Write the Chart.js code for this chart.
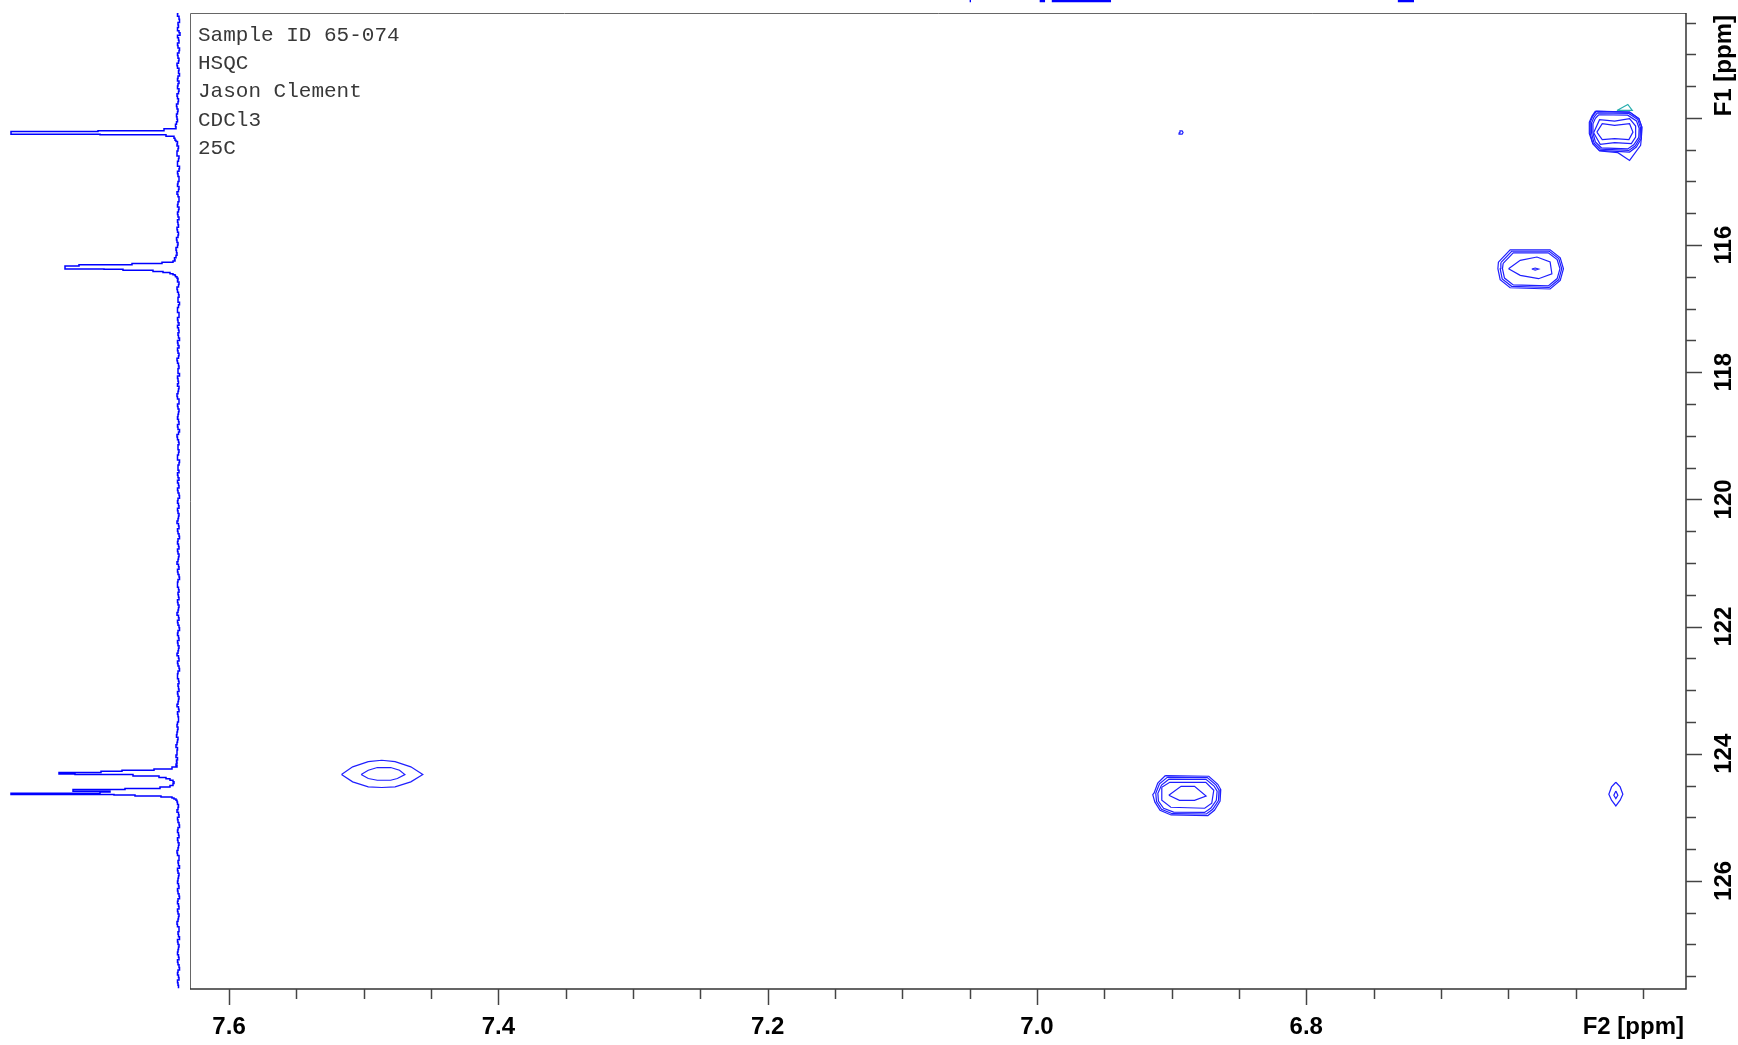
<!DOCTYPE html>
<html>
<head>
<meta charset="utf-8">
<script src="https://cdn.jsdelivr.net/npm/chart.js@4.4.1/dist/chart.umd.min.js"></script>
<style>
  html, body { margin: 0; padding: 0; background: #fff; }
  #wrap { position: relative; width: 1738px; height: 1045px; }
  #main_canvas { position: absolute; left: 0; top: 0; }
  #proj_canvas { position: absolute; left: 0; top: 0; }
</style>
</head>
<body>
<div id="wrap">
  <canvas id="main_canvas" width="1738" height="1045"></canvas>
  <canvas id="proj_canvas" width="190" height="1045"></canvas>
</div>
<script>
// axis ranges (ppm)
const f2Range = [6.518, 7.629];
const f1Range = [112.35, 127.70];

const f2Ticks = [7.6, 7.55, 7.5, 7.45, 7.4, 7.35, 7.3, 7.25, 7.2, 7.15, 7.1, 7.05, 7.0, 6.95, 6.9, 6.85, 6.8, 6.75, 6.7, 6.65, 6.6, 6.55];
const f2Labels = [7.6, 7.4, 7.2, 7.0, 6.8];
const f1Ticks = [112.5, 113, 113.5, 114, 114.5, 115, 115.5, 116, 116.5, 117, 117.5, 118, 118.5, 119, 119.5, 120, 120.5, 121, 121.5, 122, 122.5, 123, 123.5, 124, 124.5, 125, 125.5, 126, 126.5, 127, 127.5];
const f1Major = [114, 116, 118, 120, 122, 124, 126];
const f1Labels = [116, 118, 120, 122, 124, 126];

const infoLines = ['Sample ID 65-074', 'HSQC', 'Jason Clement', 'CDCl3', '25C'];

// cross peaks: centre [F2, F1] and contour rings as [dF2, dF1] offsets (ppm)
const peakA = [6.5703, 114.212];
const peakARings = [
  [[0.0143,-0.314],[-0.0104,-0.303],[-0.0173,-0.200],[-0.0195,-0.068],[-0.0191,0.115],[-0.0186,0.220],[-0.0104,0.456],[-0.0017,0.335],[0.0119,0.309],[0.0169,0.193],[0.0188,0.036],[0.0188,-0.146],[0.0169,-0.241]],
  [[0.0150,-0.318],[-0.0104,-0.303],[-0.0173,-0.200],[-0.0195,-0.068],[-0.0191,0.115],[-0.0154,0.247],[-0.0104,0.325],[0.0119,0.299],[0.0169,0.193],[0.0195,0.036],[0.0195,-0.146],[0.0175,-0.241]],
  [[0.0135,-0.290],[-0.0098,-0.282],[-0.0165,-0.185],[-0.0185,-0.060],[-0.0182,0.105],[-0.0145,0.230],[-0.0098,0.300],[0.0112,0.280],[0.0160,0.180],[0.0178,0.030],[0.0178,-0.135],[0.0160,-0.225]],
  [[0.0125,-0.262],[-0.0090,-0.255],[-0.0155,-0.165],[-0.0175,-0.050],[-0.0172,0.095],[-0.0135,0.210],[-0.0090,0.275],[0.0105,0.258],[0.0150,0.165],[0.0168,0.025],[0.0168,-0.120],[0.0150,-0.205]],
  [[0.0163,0.021],[0.0119,-0.184],[0.0007,-0.162],[-0.0104,-0.200],[-0.0149,-0.084],[-0.0149,0.090],[-0.0117,0.193],[0.0007,0.178],[0.0114,0.204]],
  [[0.0139,0.011],[0.0099,-0.121],[0.0007,-0.094],[-0.0104,-0.121],[-0.0129,0.011],[-0.0099,0.130],[0.0007,0.115],[0.0099,0.130]]
];
const peakB = [6.630, 116.377];
const peakBRings = [
  [[0.0273,-0.110],[0.0186,-0.303],[-0.0111,-0.303],[-0.0186,-0.178],[-0.0210,-0.005],[-0.0186,0.178],[-0.0111,0.314],[0.0186,0.294],[0.0260,0.168],[0.0277,-0.005]],
  [[0.0255,-0.100],[0.0175,-0.280],[-0.0104,-0.280],[-0.0175,-0.165],[-0.0197,-0.005],[-0.0175,0.165],[-0.0104,0.290],[0.0175,0.272],[0.0245,0.155],[0.0260,-0.005]],
  [[0.0238,-0.090],[0.0163,-0.255],[-0.0097,-0.255],[-0.0163,-0.150],[-0.0184,-0.005],[-0.0163,0.150],[-0.0097,0.265],[0.0163,0.250],[0.0228,0.142],[0.0243,-0.005]],
  [[0.0198,-0.005],[0.0111,-0.137],[-0.0013,-0.189],[-0.0111,-0.110],[-0.0124,0.074],[-0.0025,0.152],[0.0111,0.099]],
  [[0.0025,0],[0,-0.016],[-0.0025,0],[0,0.016]]
];
const peakC = [7.4863, 124.327];
const peakCRings = [
  [[0.0302,0],[0.0219,-0.121],[0.0103,-0.204],[0.0003,-0.225],[-0.0096,-0.204],[-0.0213,-0.121],[-0.0302,0],[-0.0213,0.115],[-0.0096,0.193],[0.0003,0.204],[0.0103,0.193],[0.0219,0.115]],
  [[0.0156,0],[0.0103,-0.068],[0.0036,-0.110],[-0.0063,-0.110],[-0.0129,-0.068],[-0.0169,0],[-0.0113,0.063],[-0.0063,0.090],[0.0036,0.090],[0.0103,0.063]]
];
const peakD = [6.888, 124.653];
const peakDRings = [
  [[0.0166,-0.310],[-0.0156,-0.299],[-0.0223,-0.173],[-0.0245,-0.090],[-0.0240,0.090],[-0.0198,0.236],[-0.0149,0.319],[0.0124,0.310],[0.0206,0.236],[0.0245,0.105],[0.0260,-0.011],[0.0250,-0.036],[0.0223,-0.193]],
  [[0.0150,-0.285],[-0.0145,-0.278],[-0.0210,-0.160],[-0.0232,-0.080],[-0.0228,0.085],[-0.0185,0.220],[-0.0138,0.295],[0.0115,0.290],[0.0195,0.222],[0.0232,0.100],[0.0238,-0.030],[0.0210,-0.180]],
  [[0.0138,-0.255],[-0.0135,-0.250],[-0.0195,-0.145],[-0.0218,-0.065],[-0.0212,0.080],[-0.0172,0.200],[-0.0125,0.270],[0.0105,0.265],[0.0180,0.205],[0.0218,0.090],[0.0222,-0.030],[0.0195,-0.160]],
  [[0.0193,-0.126],[0.0134,-0.204],[-0.0134,-0.204],[-0.0193,-0.079],[-0.0178,0.126],[-0.0126,0.204],[0.0126,0.189],[0.0193,0.079]],
  [[0.0141,0],[0.0050,-0.141],[-0.0050,-0.141],[-0.0136,0.011],[-0.0050,0.079],[0.0062,0.079]]
];
const peakE = [6.5701, 124.637];
const peakERings = [
  [[0,-0.189],[-0.0032,-0.115],[-0.0052,0],[-0.0032,0.094],[0,0.184],[0.0032,0.094],[0.0052,0],[0.0032,-0.115]],
  [[0,-0.052],[-0.0015,0.016],[0,0.068],[0.0015,0.016]]
];
const peakF = [6.893, 114.23];
const peakFRings = [
  [[0.0015,0],[0.0008,-0.026],[-0.0008,-0.026],[-0.0015,0],[-0.0008,0.026],[0.0008,0.026]]
];
// negative level contour (teal)
const negContour = [[6.5693,113.882],[6.5579,113.882],[6.5612,113.788]];

// bits of the F2 projection that reach into view at the top edge
const topTraceX = [[7.0500,7.0490],[6.9980,6.9940],[6.9890,6.9450],[6.7320,6.7200]];
const topTraceY = 112.16;

// F1 projection [ppm, intensity]
const projF1 = [
  [112.36,1.5],[112.40,2.5],[112.45,1],[112.50,0.5],[112.54,2],[112.58,1.5],[112.63,2.5],[112.66,1],[112.70,0],[112.74,2.5],
  [112.78,1.5],[112.82,1],[112.86,2.5],[112.90,2],[112.94,0.5],[112.98,1],[113.02,2.5],[113.06,2],[113.10,1],[113.14,1.5],
  [113.18,3],[113.22,2.5],[113.26,1],[113.30,1.5],[113.34,0.5],[113.38,2],[113.42,2.5],[113.46,1],[113.50,2],[113.54,2.5],
  [113.58,1],[113.62,1.5],[113.66,3],[113.70,2.5],[113.74,1.5],[113.78,2],[113.82,3.5],[113.86,3],[113.90,2],[113.94,2.5],
  [113.98,3.5],[114.02,3],[114.06,2.5],[114.10,3.5],[114.14,4.5],[114.17,4],[114.200,16],[114.215,82],[114.225,169],[114.255,169],
  [114.265,80],[114.29,14],[114.32,6],[114.35,5],[114.37,4],[114.41,2.5],[114.44,3],[114.48,1.5],[114.52,2],[114.56,3],
  [114.60,3],[114.64,1],[114.68,1.5],[114.72,2.5],[114.76,2.5],[114.80,0.5],[114.84,1],[114.88,2.5],[114.92,2],[114.96,1],
  [115.00,1],[115.04,2],[115.08,2.5],[115.12,1],[115.16,1.5],[115.20,3],[115.24,2],[115.28,1],[115.32,1],[115.36,2],
  [115.40,2.5],[115.44,1],[115.48,1.5],[115.52,2.5],[115.56,2],[115.60,1],[115.64,2.5],[115.68,2],[115.72,1.5],[115.76,3],
  [115.80,2.5],[115.84,1.5],[115.88,2],[115.92,3.5],[115.96,3],[116.00,2],[116.04,2.5],[116.08,4],[116.12,3.5],[116.16,3],
  [116.20,4],[116.23,5.5],[116.25,5],[116.27,7],[116.29,18],[116.31,48],[116.33,101],[116.35,115],[116.375,115],[116.38,76],
  [116.395,57],[116.415,27],[116.43,17],[116.45,10],[116.465,7],[116.48,5],[116.50,4.5],[116.52,3],[116.55,2],[116.58,2.5],
  [116.62,1],[116.66,1.5],[116.70,3],[116.74,2.5],[116.78,1.5],[116.82,1],[116.86,2],[116.90,2],[116.94,0.5],[116.98,1.5],
  [117.02,2.5],[117.06,2.5],[117.10,1],[117.14,1],[117.18,2.5],[117.22,2],[117.26,1],[117.30,2.5],[117.34,1.5],[117.38,1],
  [117.42,2],[117.46,1.5],[117.50,0.5],[117.54,2.5],[117.58,2],[117.62,1],[117.66,2.5],[117.70,2],[117.74,1],[117.78,1.5],
  [117.82,3],[117.86,2.5],[117.90,1.5],[117.94,1],[117.98,2],[118.02,2],[118.06,0.5],[118.10,2.5],[118.14,2],[118.18,1.5],
  [118.22,2.5],[118.26,1],[118.30,1.5],[118.34,2],[118.38,3],[118.42,2.5],[118.46,1],[118.50,1],[118.54,2.5],[118.58,2],
  [118.62,1],[118.66,1.5],[118.70,2],[118.74,2.5],[118.78,1.5],[118.82,1],[118.86,2.5],[118.90,2],[118.94,0.5],[118.98,1.5],
  [119.02,3],[119.06,2.5],[119.10,1.5],[119.14,1],[119.18,2],[119.22,2],[119.26,1],[119.30,1.5],[119.34,2.5],[119.38,2.5],
  [119.42,0.5],[119.46,1],[119.50,2],[119.54,2],[119.58,1],[119.62,2.5],[119.66,2],[119.70,1],[119.74,2.5],[119.78,1.5],
  [119.82,1],[119.86,2.5],[119.90,2],[119.94,1],[119.98,0.5],[120.02,2],[120.06,2.5],[120.10,1.5],[120.14,1],[120.18,2.5],
  [120.22,2],[120.26,1],[120.30,1.5],[120.34,2],[120.38,3],[120.42,1.5],[120.46,1],[120.50,2.5],[120.54,2],[120.58,1],
  [120.62,0.5],[120.66,2],[120.70,2.5],[120.74,1.5],[120.78,1],[120.82,2.5],[120.86,2],[120.90,1],[120.94,1.5],[120.98,2],
  [121.02,3],[121.06,1.5],[121.10,1],[121.14,2.5],[121.18,2],[121.22,1],[121.26,0.5],[121.30,2],[121.34,2.5],[121.38,2.5],
  [121.42,1.5],[121.46,1],[121.50,2],[121.54,1.5],[121.58,1],[121.62,2.5],[121.66,2],[121.70,1],[121.74,1.5],[121.78,2],
  [121.82,3],[121.86,1.5],[121.90,1],[121.94,2.5],[121.98,2],[122.02,1],[122.06,0.5],[122.10,2],[122.14,2.5],[122.18,1.5],
  [122.22,1],[122.26,2.5],[122.30,2],[122.34,1],[122.38,1.5],[122.42,2],[122.46,3],[122.50,1.5],[122.54,1],[122.58,2.5],
  [122.62,2],[122.66,1],[122.70,0.5],[122.74,2],[122.78,2.5],[122.82,2.5],[122.86,1.5],[122.90,1],[122.94,2],[122.98,1.5],
  [123.02,1],[123.06,2.5],[123.10,2],[123.14,1],[123.18,1.5],[123.22,2],[123.26,3],[123.30,1.5],[123.34,1],[123.38,2.5],
  [123.42,2],[123.46,1.5],[123.50,1.5],[123.54,2.5],[123.58,3],[123.62,2],[123.66,2.5],[123.70,3],[123.74,3.5],[123.78,2],
  [123.82,2.5],[123.86,3],[123.90,4],[123.94,2.5],[123.98,3],[124.02,3],[124.06,4],[124.10,2.5],[124.13,3.5],[124.16,3],
  [124.19,4],[124.208,3],[124.24,8],[124.259,26],[124.275,58],[124.296,79],[124.305,121],[124.318,121],[124.325,105],[124.35,47],
  [124.374,21],[124.395,14],[124.417,10],[124.44,7],[124.469,6],[124.50,7],[124.522,10],[124.547,20],[124.563,55],[124.575,107],
  [124.59,107],[124.60,70],[124.62,80],[124.628,169],[124.640,169],[124.648,66],[124.664,45],[124.679,19],[124.695,8],[124.71,6],
  [124.731,4],[124.76,3],[124.80,2.5],[124.84,1.5],[124.88,2],[124.92,3],[124.96,1.5],[125.00,1],[125.04,2.5],[125.08,2],
  [125.12,1],[125.16,0.5],[125.20,2],[125.24,2.5],[125.28,1.5],[125.32,1],[125.36,2.5],[125.40,2],[125.44,1],[125.48,1.5],
  [125.52,2],[125.56,3],[125.60,2.5],[125.64,1],[125.68,1],[125.72,2],[125.76,1.5],[125.80,0.5],[125.84,2.5],[125.88,2],
  [125.92,1],[125.96,1.5],[126.00,2],[126.04,2.5],[126.08,1.5],[126.12,1],[126.16,2.5],[126.20,2],[126.24,1],[126.28,0.5],
  [126.32,2],[126.36,2.5],[126.40,1.5],[126.44,1],[126.48,2.5],[126.52,2],[126.56,1],[126.60,1.5],[126.64,2],[126.68,3],
  [126.72,2.5],[126.76,1],[126.80,1],[126.84,2],[126.88,1.5],[126.92,0.5],[126.96,2.5],[127.00,2],[127.04,1],[127.08,1.5],
  [127.12,2],[127.16,2.5],[127.20,1.5],[127.24,1],[127.28,2.5],[127.32,2],[127.36,1],[127.40,0.5],[127.44,2],[127.48,2.5],
  [127.52,1.5],[127.56,1],[127.60,2.5],[127.64,2],[127.69,1.5]
];

const contourBlue = '#1f1fff';
const tealColor = '#26aeae';

function ringDataset(center, ring, color) {
  const pts = ring.map(([dx, dy]) => ({ x: center[0] + dx, y: center[1] + dy }));
  pts.push(pts[0]);
  return {
    data: pts,
    showLine: true,
    borderColor: color,
    borderWidth: 1.2,
    pointRadius: 0,
    tension: 0,
    fill: false,
  };
}

const datasets = [];
[[peakA, peakARings], [peakB, peakBRings], [peakC, peakCRings], [peakD, peakDRings], [peakE, peakERings], [peakF, peakFRings]]
  .forEach(([c, rings]) => rings.forEach(r => datasets.push(ringDataset(c, r, contourBlue))));
datasets.push(ringDataset([0, 0], negContour, tealColor));

const topPts = [];
topTraceX.forEach(([a, b]) => {
  topPts.push({ x: a, y: topTraceY }, { x: b, y: topTraceY }, { x: null, y: null });
});
datasets.push({
  data: topPts,
  showLine: true,
  spanGaps: false,
  borderColor: '#0000ff',
  borderWidth: 2.5,
  pointRadius: 0,
  clip: false,
});

const axisPlugin = {
  id: 'nmrAxes',
  afterDraw(chart) {
    const { ctx, chartArea: a, scales: { x, y } } = chart;
    ctx.save();
    // frame
    ctx.lineWidth = 1;
    ctx.strokeStyle = '#666';
    ctx.beginPath();
    ctx.moveTo(a.left + 0.5, a.bottom);
    ctx.lineTo(a.left + 0.5, a.top + 0.5);
    ctx.lineTo(a.right, a.top + 0.5);
    ctx.stroke();
    ctx.lineWidth = 1.5;
    ctx.strokeStyle = '#333';
    ctx.beginPath();
    ctx.moveTo(a.left, a.bottom);
    ctx.lineTo(a.right, a.bottom);
    ctx.lineTo(a.right, a.top);
    ctx.stroke();

    // F2 ticks
    ctx.strokeStyle = '#444';
    ctx.lineWidth = 1.5;
    f2Ticks.forEach(v => {
      const px = Math.round(x.getPixelForValue(v)) + 0.5;
      const len = f2Labels.includes(v) ? 16 : 10;
      ctx.beginPath();
      ctx.moveTo(px, a.bottom);
      ctx.lineTo(px, a.bottom + len);
      ctx.stroke();
    });
    // F1 ticks
    f1Ticks.forEach(v => {
      const py = Math.round(y.getPixelForValue(v)) + 0.5;
      const len = f1Major.includes(v) ? 16 : 10;
      ctx.beginPath();
      ctx.moveTo(a.right, py);
      ctx.lineTo(a.right + len, py);
      ctx.stroke();
    });

    ctx.fillStyle = '#000';
    ctx.font = 'bold 24px "Liberation Sans", Arial, sans-serif';
    ctx.textAlign = 'center';
    ctx.textBaseline = 'alphabetic';
    f2Labels.forEach(v => {
      ctx.fillText(v.toFixed(1), x.getPixelForValue(v), a.bottom + 45);
    });
    ctx.textAlign = 'right';
    ctx.fillText('F2 [ppm]', a.right - 2, a.bottom + 45);

    f1Labels.forEach(v => {
      ctx.save();
      ctx.translate(a.right + 45, y.getPixelForValue(v));
      ctx.rotate(-Math.PI / 2);
      ctx.textAlign = 'center';
      ctx.fillText(String(v), 0, 0);
      ctx.restore();
    });
    ctx.save();
    ctx.translate(a.right + 45, a.top + 2);
    ctx.rotate(-Math.PI / 2);
    ctx.textAlign = 'right';
    ctx.fillText('F1 [ppm]', 0, 0);
    ctx.restore();

    // acquisition notes
    ctx.fillStyle = '#383838';
    ctx.font = '21px "Liberation Mono", "Courier New", monospace';
    ctx.textAlign = 'left';
    infoLines.forEach((t, i) => {
      ctx.fillText(t, a.left + 8, a.top + 27.5 + i * 28.4);
    });
    ctx.restore();
  }
};

new Chart(document.getElementById('main_canvas'), {
  type: 'scatter',
  data: { datasets },
  options: {
    responsive: false,
    devicePixelRatio: 1,
    animation: false,
    layout: { padding: { left: 190, right: 52, top: 13, bottom: 56 } },
    plugins: { legend: { display: false }, tooltip: { enabled: false } },
    scales: {
      x: { type: 'linear', display: false, reverse: true, min: f2Range[0], max: f2Range[1] },
      y: { type: 'linear', display: false, reverse: true, min: f1Range[0], max: f1Range[1] },
    },
  },
  plugins: [axisPlugin],
});

// F1 projection to the left of the contour plot
new Chart(document.getElementById('proj_canvas'), {
  type: 'scatter',
  data: {
    datasets: [{
      data: projF1.map(([ppm, v]) => ({ x: v, y: ppm })),
      showLine: true,
      stepped: true,
      borderColor: '#0000ff',
      borderWidth: 1.5,
      pointRadius: 0,
    }]
  },
  options: {
    responsive: false,
    devicePixelRatio: 1,
    animation: false,
    layout: { padding: { left: 0, right: 0, top: 13, bottom: 56 } },
    plugins: { legend: { display: false }, tooltip: { enabled: false } },
    scales: {
      x: { type: 'linear', display: false, reverse: true, min: -10, max: 180 },
      y: { type: 'linear', display: false, reverse: true, min: f1Range[0], max: f1Range[1] },
    },
  },
});
</script>
</body>
</html>
